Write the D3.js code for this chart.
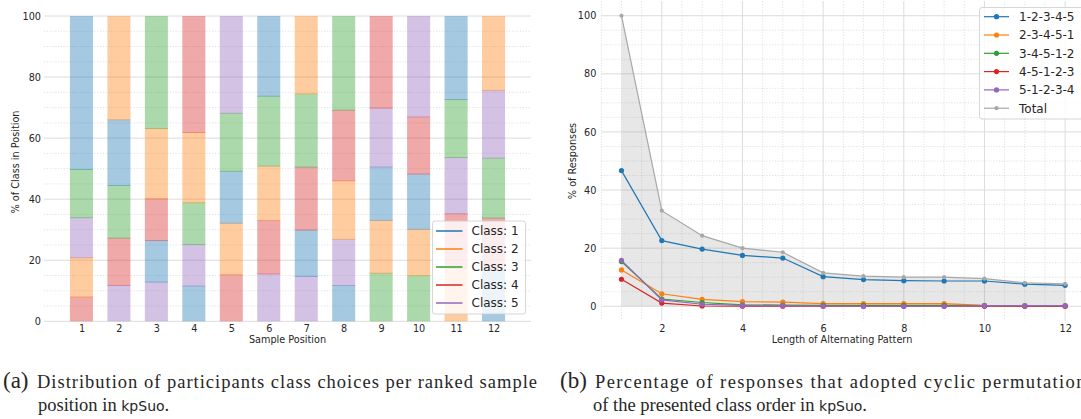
<!DOCTYPE html>
<html>
<head>
<meta charset="utf-8">
<script src="https://cdn.jsdelivr.net/npm/d3@7"></script>
<style>
  body { margin: 0; background: #fff; }
  svg { display: block; }
  text { font-family: "DejaVu Sans", sans-serif; fill: #262626; }
</style>
</head>
<body>
<div id="chart"></div>
<script>
// ---- data: left panel (share of each class per sample position, %)
const positions = d3.range(1, 13);
const classNames = ["Class: 1", "Class: 2", "Class: 3", "Class: 4", "Class: 5"];
const class1 = [50.1, 21.5, 13.6, 11.7, 17.0, 26.1, 15.2, 11.9, 17.5, 18.1, 27.2, 17.0];
const class2 = [12.9, 33.85, 23.0, 23.0, 16.9, 17.8, 25.35, 19.2, 17.3, 15.2, 17.5, 24.2];
const class3 = [15.8, 17.25, 36.7, 13.7, 19.0, 22.9, 24.0, 30.7, 15.9, 15.1, 19.0, 19.6];
const class4 = [8.1, 15.5, 13.7, 38.0, 15.4, 17.5, 20.6, 23.1, 30.0, 18.7, 17.9, 17.0];
const class5 = [13.1, 11.9, 13.0, 13.6, 31.7, 15.7, 14.85, 15.1, 19.3, 32.9, 18.4, 22.2];
const classValues = [class1, class2, class3, class4, class5];

// ---- data: right panel (% of responses per pattern length)
const patternLengths = d3.range(1, 13);
const seriesNames = ["1-2-3-4-5", "2-3-4-5-1", "3-4-5-1-2", "4-5-1-2-3", "5-1-2-3-4"];
const perm12345 = [46.7, 22.6, 19.7, 17.5, 16.6, 10.2, 9.2, 8.8, 8.7, 8.7, 7.6, 7.2];
const perm23451 = [12.5, 4.3, 2.4, 1.6, 1.4, 0.9, 0.9, 0.9, 0.9, 0.3, 0.2, 0.2];
const perm34512 = [15.4, 2.5, 1.3, 0.5, 0.4, 0.3, 0.3, 0.3, 0.3, 0.2, 0.1, 0.1];
const perm45123 = [9.3, 1.1, 0.1, 0, 0, 0, 0, 0, 0, 0, 0, 0];
const perm51234 = [15.8, 2.2, 0.7, 0.3, 0.2, 0.1, 0, 0, 0, 0.2, 0.2, 0.2];
const totalPct = [100, 32.9, 24.3, 20.0, 18.6, 11.5, 10.4, 10.0, 10.0, 9.5, 8.1, 7.7];
const seriesValues = [perm12345, perm23451, perm34512, perm45123, perm51234];

const colors = d3.schemeCategory10.slice(0, 5);

const width = 1081, height = 419;
const svg = d3.select("#chart").append("svg")
    .attr("width", width)
    .attr("height", height);

function drawGrid(g, scale, ticks, orient, x0, x1, dashed) {
    g.selectAll("line")
        .data(ticks)
        .join("line")
        .attr("x1", d => orient === "h" ? x0 : scale(d))
        .attr("x2", d => orient === "h" ? x1 : scale(d))
        .attr("y1", d => orient === "h" ? scale(d) : x0)
        .attr("y2", d => orient === "h" ? scale(d) : x1)
        .attr("stroke", dashed ? "#d6d6d6" : "#dcdcdc")
        .attr("stroke-width", dashed ? 0.7 : 1)
        .attr("stroke-dasharray", dashed ? "1.2,1.6" : null);
}

function styleAxis(g) {
    g.select(".domain").remove();
    g.selectAll("text").style("font-size", "9.7px").attr("fill", "#262626");
}

// ================= LEFT PANEL =================
const xL = d3.scaleLinear().domain([0, 13]).range([44, 531]);
const yL = d3.scaleLinear().domain([0, 100]).range([321.3, 16]);

const left = svg.append("g");
drawGrid(left.append("g"), yL, d3.range(5, 100, 5).filter(d => d % 20 !== 0), "h", 44, 531, true);
drawGrid(left.append("g"), yL, d3.range(0, 101, 20), "h", 44, 531, false);

// stack each position's classes from smallest to largest
const barW = (xL(1) - xL(0)) * 0.615;
const segments = [];
positions.forEach((p, i) => {
    const order = d3.range(5).sort((a, b) => classValues[a][i] - classValues[b][i] || a - b);
    let base = 0;
    order.forEach(c => {
        const v = classValues[c][i];
        segments.push({ pos: p, cls: c, y0: base, y1: base + v });
        base += v;
    });
});

left.append("g")
    .selectAll("rect")
    .data(segments)
    .join("rect")
    .attr("x", d => xL(d.pos) - barW / 2)
    .attr("width", barW)
    .attr("y", d => yL(d.y1))
    .attr("height", d => yL(d.y0) - yL(d.y1) + (d.y0 > 0 ? 1 : 0))
    .attr("fill", d => colors[d.cls])
    .attr("fill-opacity", 0.4);

left.append("g")
    .attr("transform", `translate(0,${yL(0)})`)
    .call(d3.axisBottom(xL).tickValues(positions).tickSize(0).tickPadding(4))
    .call(styleAxis);

left.append("g")
    .attr("transform", `translate(${xL(0)},0)`)
    .call(d3.axisLeft(yL).tickValues(d3.range(0, 101, 20)).tickSize(0).tickPadding(3))
    .call(styleAxis);

left.append("text")
    .attr("x", 287.5).attr("y", 343)
    .attr("text-anchor", "middle")
    .style("font-size", "9.7px")
    .text("Sample Position");

left.append("text")
    .attr("transform", "translate(19.3,162) rotate(-90)")
    .attr("text-anchor", "middle")
    .style("font-size", "9.7px")
    .text("% of Class in Position");

// legend
const legL = left.append("g");
legL.append("rect")
    .attr("x", 432.5).attr("y", 221).attr("width", 93).attr("height", 93)
    .attr("rx", 2.5)
    .attr("fill", "#fff").attr("fill-opacity", 0.8)
    .attr("stroke", "#cccccc").attr("stroke-width", 0.8);
classNames.forEach((name, i) => {
    const cy = 231 + i * 18;
    legL.append("line")
        .attr("x1", 436).attr("x2", 462.5).attr("y1", cy).attr("y2", cy)
        .attr("stroke", colors[i]).attr("stroke-width", 1.5);
    legL.append("text")
        .attr("x", 471.5).attr("y", cy).attr("dy", "0.36em")
        .style("font-size", "12px")
        .text(name);
});

// ================= RIGHT PANEL =================
const xR = d3.scaleLinear().domain([0.5, 12.5]).range([601.3, 1085.3]);
const yR = d3.scaleLinear().domain([-5, 105]).range([320.8, 1.2]);

const right = svg.append("g");
drawGrid(right.append("g"), yR, d3.range(-5, 105, 5).filter(d => d % 20 !== 0 && d > -5), "h", 601.3, 1085.3, true);
drawGrid(right.append("g"), xR, d3.range(0.5, 12.6, 0.5).filter(d => d % 2 !== 0), "v", 1.2, 320.8, true);
drawGrid(right.append("g"), yR, d3.range(0, 101, 20), "h", 601.3, 1085.3, false);
drawGrid(right.append("g"), xR, d3.range(2, 13, 2), "v", 1.2, 320.8, false);

const area = d3.area()
    .x((d, i) => xR(patternLengths[i]))
    .y0(yR(0))
    .y1(d => yR(d));
right.append("path")
    .datum(totalPct)
    .attr("d", area)
    .attr("fill", "#888")
    .attr("fill-opacity", 0.2);

const line = d3.line()
    .x((d, i) => xR(patternLengths[i]))
    .y(d => yR(d));

seriesValues.forEach((vals, s) => {
    const g = right.append("g");
    g.append("path")
        .datum(vals)
        .attr("d", line)
        .attr("fill", "none")
        .attr("stroke", colors[s])
        .attr("stroke-width", 1.2);
    g.selectAll("circle")
        .data(vals)
        .join("circle")
        .attr("cx", (d, i) => xR(patternLengths[i]))
        .attr("cy", d => yR(d))
        .attr("r", 2.6)
        .attr("fill", colors[s]);
});

const totalG = right.append("g");
totalG.append("path")
    .datum(totalPct)
    .attr("d", line)
    .attr("fill", "none")
    .attr("stroke", "#a8a8a8")
    .attr("stroke-width", 1.2);
totalG.selectAll("circle")
    .data(totalPct)
    .join("circle")
    .attr("cx", (d, i) => xR(patternLengths[i]))
    .attr("cy", d => yR(d))
    .attr("r", 2.1)
    .attr("fill", "#a8a8a8");

right.append("g")
    .attr("transform", `translate(0,${yR(-5)})`)
    .call(d3.axisBottom(xR).tickValues(d3.range(2, 13, 2)).tickSize(0).tickPadding(4))
    .call(styleAxis);

right.append("g")
    .attr("transform", `translate(${xR(0.5)},0)`)
    .call(d3.axisLeft(yR).tickValues(d3.range(0, 101, 20)).tickSize(0).tickPadding(5))
    .call(styleAxis);

right.append("text")
    .attr("x", 842).attr("y", 343)
    .attr("text-anchor", "middle")
    .style("font-size", "9.7px")
    .text("Length of Alternating Pattern");

right.append("text")
    .attr("transform", "translate(575.5,161) rotate(-90)")
    .attr("text-anchor", "middle")
    .style("font-size", "9.7px")
    .text("% of Responses");

// legend
const legR = right.append("g");
legR.append("rect")
    .attr("x", 979.5).attr("y", 7.5).attr("width", 110).attr("height", 111.5)
    .attr("rx", 2.5)
    .attr("fill", "#fff").attr("fill-opacity", 0.8)
    .attr("stroke", "#cccccc").attr("stroke-width", 0.8);
const legItems = seriesNames.map((n, i) => ({ name: n, color: colors[i], r: 2.6 }))
    .concat([{ name: "Total", color: "#a8a8a8", r: 2.1 }]);
legItems.forEach((d, i) => {
    const cy = 16.7 + i * 18.3;
    legR.append("line")
        .attr("x1", 984).attr("x2", 1009).attr("y1", cy).attr("y2", cy)
        .attr("stroke", d.color).attr("stroke-width", 1.2);
    legR.append("circle")
        .attr("cx", 996.5).attr("cy", cy).attr("r", d.r)
        .attr("fill", d.color);
    legR.append("text")
        .attr("x", 1019).attr("y", cy).attr("dy", "0.36em")
        .style("font-size", "12px")
        .text(d.name);
});

// ================= CAPTIONS =================
const serif = "'Liberation Serif', 'DejaVu Serif', serif";
function caption(label, lx, tx, lines, ends) {
    svg.append("text")
        .attr("x", lx).attr("y", 387.5)
        .style("font-family", serif).style("font-size", "23px")
        .attr("fill", "#111")
        .text(label);
    lines.forEach((ln, i) => {
        const t = svg.append("text")
            .attr("x", tx[i]).attr("y", 387.5 + i * 23)
            .style("font-family", serif).style("font-size", "18.5px")
            .attr("fill", "#111");
        if (ends[i]) {
            t.attr("textLength", ends[i] - tx[i]).attr("lengthAdjust", "spacing");
        }
        t.append("tspan").text(ln[0]);
        if (ln[1]) {
            t.append("tspan")
                .style("font-family", "'DejaVu Sans', sans-serif")
                .style("font-size", "14px")
                .text(ln[1]);
            t.append("tspan").text(".");
        }
    });
}
caption("(a)", 3, [37, 38],
    [["Distribution of participants class choices per ranked sample"], ["position in ", "kpSuo"]],
    [537, null]);
caption("(b)", 560, [595, 593],
    [["Percentage of responses that adopted cyclic permutations"], ["of the presented class order in ", "kpSuo"]],
    [1094, null]);
</script>
</body>
</html>
